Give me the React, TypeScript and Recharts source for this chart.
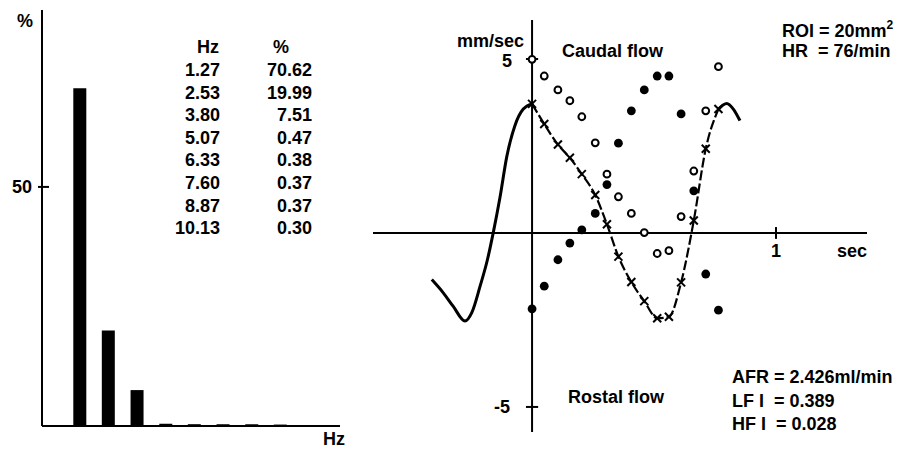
import {
  BarChart,
  Bar,
  ComposedChart,
  Line,
  Scatter,
  XAxis,
  YAxis,
  ReferenceLine,
} from "recharts";

// spectrum (left panel)
const harmonicHz = [1.27, 2.53, 3.8, 5.07, 6.33, 7.6, 8.87, 10.13];
const harmonicPct = [70.62, 19.99, 7.51, 0.47, 0.38, 0.37, 0.37, 0.3];

// velocity samples (right panel), sec and mm/sec
const sampleTimes = [
  0, 0.05, 0.106, 0.155, 0.204, 0.259, 0.307, 0.354, 0.407, 0.46, 0.513, 0.561,
  0.611, 0.663, 0.712, 0.764,
];
const meanVelocity = [
  3.71, 3.13, 2.54, 2.16, 1.69, 1.09, 0.25, -0.68, -1.41, -1.96, -2.45, -2.41,
  -1.42, 0.36, 2.42, 3.56,
];
const caudalVelocity = [
  4.99, 4.51, 4.11, 3.8, 3.34, 2.59, 1.69, 1.04, 0.56, 0.01, -0.59, -0.51, 0.47,
  1.78, 3.51, 4.78,
];
const rostralVelocity = [
  -2.18, -1.53, -0.77, -0.29, 0.09, 0.56, 1.39, 2.58, 3.51, 4.11, 4.51, 4.51,
  3.42, 1.21, -1.18, -2.22,
];

// fitted waveform outside the sampled cycle
const preCycleT = [
  -0.411, -0.364, -0.323, -0.275, -0.247, -0.213, -0.183, -0.159, -0.131,
  -0.104, -0.07, -0.036, 0,
];
const preCycleV = [
  -1.34, -1.72, -2.11, -2.53, -2.29, -1.53, -0.77, 0.01, 1.04, 2.18, 3.09, 3.56,
  3.71,
];
const postCycleT = [0.764, 0.798, 0.825, 0.852];
const postCycleV = [3.56, 3.72, 3.56, 3.23];

const spectrum = harmonicHz.map((hz, i) => ({ hz, pct: harmonicPct[i] }));
const crosses = sampleTimes.map((t, i) => ({ t, v: meanVelocity[i] }));
const openDots = sampleTimes.map((t, i) => ({ t, v: caudalVelocity[i] }));
const filledDots = sampleTimes.map((t, i) => ({ t, v: rostralVelocity[i] }));
const waveform = [
  ...preCycleT.map((t, i) => ({ t, v: preCycleV[i] })),
  { t: 0.4, v: null },
  ...postCycleT.map((t, i) => ({ t, v: postCycleV[i] })),
];

const font = "'Liberation Sans', Arial, Helvetica, sans-serif";
const txt = { fontFamily: font, fontSize: 18, fontWeight: 700, fill: "#000" };

const LeftTick = (props: any) => {
  const { x, y, payload } = props;
  return (
    <g>
      <line x1={x - 4} x2={x + 7} y1={y} y2={y} stroke="#000" strokeWidth={2} />
      <text x={x - 10} y={y + 6} textAnchor="end" style={txt}>
        {payload.value}
      </text>
    </g>
  );
};

const Cross = (props: any) => {
  const { cx, cy } = props;
  if (cx == null || cy == null) return <g />;
  const s = 4;
  return (
    <g stroke="#000" strokeWidth={2}>
      <line x1={cx - s} y1={cy - s} x2={cx + s} y2={cy + s} />
      <line x1={cx - s} y1={cy + s} x2={cx + s} y2={cy - s} />
    </g>
  );
};

const OpenDot = (props: any) => (
  <circle cx={props.cx} cy={props.cy} r={3.4} fill="#fff" stroke="#000" strokeWidth={2} />
);
const FilledDot = (props: any) => (
  <circle cx={props.cx} cy={props.cy} r={4.4} fill="#000" />
);

export default function App() {
  return (
    <div
      style={{
        position: "absolute",
        left: 0,
        top: 0,
        width: 897,
        height: 450,
        background: "#fff",
      }}
    >
      <div style={{ position: "absolute", left: 0, top: 0 }}>
        <BarChart
          width={360}
          height={450}
          data={spectrum}
          margin={{ top: 10, right: 20, left: 0, bottom: 0 }}
        >
          <XAxis
            dataKey="hz"
            type="number"
            domain={[-0.39, 12.78]}
            allowDataOverflow
            height={24}
            tick={false}
            tickLine={false}
            axisLine={{ stroke: "#000", strokeWidth: 2 }}
          />
          <YAxis
            type="number"
            domain={[0, 87]}
            ticks={[50]}
            width={42}
            tickSize={0}
            tickMargin={0}
            tickLine={false}
            tick={<LeftTick />}
            axisLine={{ stroke: "#000", strokeWidth: 2 }}
          />
          <Bar dataKey="pct" fill="#000" barSize={13} isAnimationActive={false} />
        </BarChart>
      </div>

      <div style={{ position: "absolute", left: 360, top: 0 }}>
        <ComposedChart
          width={537}
          height={450}
          margin={{ top: 20, right: 30, left: 13, bottom: 18 }}
        >
          <XAxis
            dataKey="t"
            type="number"
            domain={[-0.652, 1.373]}
            allowDataOverflow
            hide
          />
          <YAxis
            dataKey="v"
            type="number"
            domain={[-5.72, 6.12]}
            allowDataOverflow
            hide
          />
          <ReferenceLine y={0} stroke="#000" strokeWidth={2} />
          <ReferenceLine x={0} stroke="#000" strokeWidth={2} />
          <ReferenceLine
            segment={[
              { x: -0.025, y: 5 },
              { x: 0.025, y: 5 },
            ]}
            stroke="#000"
            strokeWidth={2}
          />
          <ReferenceLine
            segment={[
              { x: -0.025, y: -5 },
              { x: 0.025, y: -5 },
            ]}
            stroke="#000"
            strokeWidth={2}
          />
          <ReferenceLine
            segment={[
              { x: 1, y: -0.17 },
              { x: 1, y: 0.17 },
            ]}
            stroke="#000"
            strokeWidth={2}
          />
          <Line
            data={waveform}
            dataKey="v"
            type="monotone"
            stroke="#000"
            strokeWidth={3}
            dot={false}
            isAnimationActive={false}
          />
          <Line
            data={crosses}
            dataKey="v"
            type="monotone"
            stroke="#000"
            strokeWidth={2.2}
            strokeDasharray="10 3"
            dot={<Cross />}
            isAnimationActive={false}
          />
          <Scatter
            data={openDots}
            dataKey="v"
            shape={<OpenDot />}
            isAnimationActive={false}
          />
          <Scatter
            data={filledDots}
            dataKey="v"
            shape={<FilledDot />}
            isAnimationActive={false}
          />
        </ComposedChart>
      </div>

      <svg
        width={897}
        height={450}
        style={{ position: "absolute", left: 0, top: 0, pointerEvents: "none" }}
      >
        {/* left panel labels and table */}
        <text x={25} y={27} textAnchor="middle" style={txt}>%</text>
        <text x={334} y={445} textAnchor="middle" style={txt}>Hz</text>
        <text x={219} y={53} textAnchor="end" style={txt}>Hz</text>
        <text x={281} y={53} textAnchor="middle" style={txt}>%</text>
        {harmonicHz.map((hz, i) => (
          <g key={hz}>
            <text x={220} y={76 + i * 22.6} textAnchor="end" style={txt}>
              {hz.toFixed(2)}
            </text>
            <text x={312} y={76 + i * 22.6} textAnchor="end" style={txt}>
              {harmonicPct[i].toFixed(2)}
            </text>
          </g>
        ))}

        {/* right panel labels */}
        <text x={524} y={47} textAnchor="end" style={txt}>mm/sec</text>
        <text x={512} y={67} textAnchor="end" style={txt}>5</text>
        <text x={510} y={413} textAnchor="end" style={txt}>-5</text>
        <text x={776} y={257} textAnchor="middle" style={txt}>1</text>
        <text x={867} y={257} textAnchor="end" style={txt}>sec</text>
        <text x={562} y={57} style={txt}>Caudal flow</text>
        <text x={568} y={403} style={txt}>Rostal flow</text>

        <text x={782} y={37} style={txt}>
          ROI = 20mm
          <tspan dy={-8} fontSize={12}>2</tspan>
        </text>
        <text x={782} y={57} style={txt} xmlSpace="preserve">
          HR  = 76/min
        </text>

        <text x={732} y={383} style={txt}>AFR = 2.426ml/min</text>
        <text x={732} y={407} style={txt} xmlSpace="preserve">
          LF I  = 0.389
        </text>
        <text x={732} y={430} style={txt} xmlSpace="preserve">
          HF I  = 0.028
        </text>
      </svg>
    </div>
  );
}
